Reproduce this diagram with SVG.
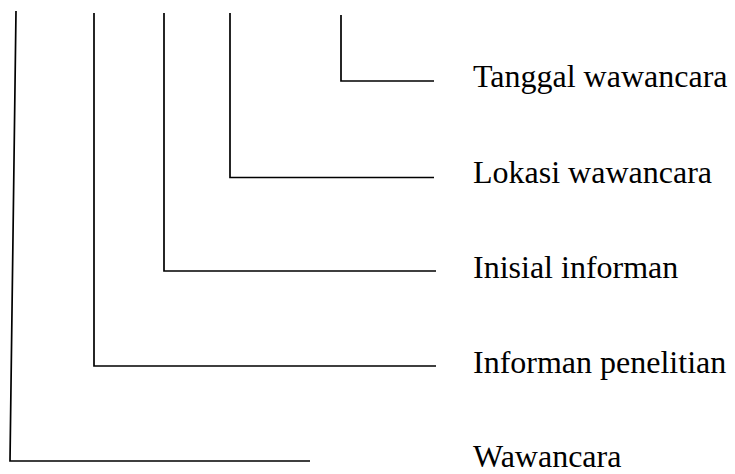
<svg xmlns="http://www.w3.org/2000/svg" width="735" height="474" viewBox="0 0 735 474">
  <style>
    .rule { fill: none; stroke: #000; stroke-width: 1.7; stroke-linecap: butt; }
    .label { font-family: "Liberation Serif", "Times New Roman", serif; font-size: 32px; fill: #000; }
  </style>
  <rect width="735" height="474" fill="#fff"/>
  <g id="connectors">
    <polyline class="rule" points="16,11 10,461 310,461"/>
    <polyline class="rule" points="94,13 94,366 436,366"/>
    <polyline class="rule" points="164,13 164,271 436,271"/>
    <polyline class="rule" points="230,13 230,177.5 434,177.5"/>
    <polyline class="rule" points="341,15 341,81 434,81"/>
  </g>
  <g id="tanggal"><text class="label" x="473" y="87">Tanggal wawancara</text></g>
  <g id="lokasi"><text class="label" x="473" y="183">Lokasi wawancara</text></g>
  <g id="inisial"><text class="label" x="473" y="278">Inisial informan</text></g>
  <g id="informan"><text class="label" x="473" y="373">Informan penelitian</text></g>
  <g id="wawancara"><text class="label" x="473" y="467">Wawancara</text></g>
</svg>
